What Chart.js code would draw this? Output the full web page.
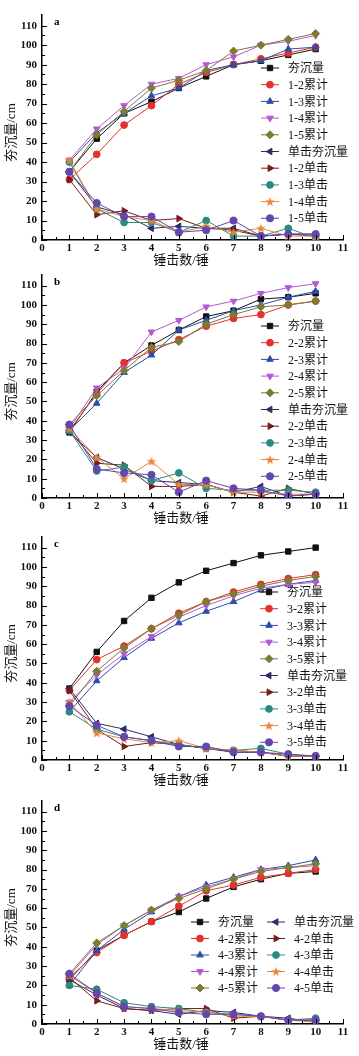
<!DOCTYPE html>
<html>
<head>
<meta charset="utf-8">
<script src="https://cdn.jsdelivr.net/npm/chart.js@4.4.1/dist/chart.umd.min.js"></script>
<style>
html, body { margin: 0; padding: 0; background: #fff; }
body { width: 359px; height: 1056px; position: relative; overflow: hidden; }
canvas { position: absolute; left: 0; }
</style>
</head>
<body>
<canvas id="chart_a" width="359" height="267" style="top:3px"></canvas>
<canvas id="chart_b" width="359" height="265" style="top:263px"></canvas>
<canvas id="chart_c" width="359" height="265" style="top:525px"></canvas>
<canvas id="chart_d" width="359" height="265" style="top:789px"></canvas>
<script>
// hammer blow number (x axis)
var blows = [1, 2, 3, 4, 5, 6, 7, 8, 9, 10];
// y axis tick labels
var yTicks = [0, 10, 20, 30, 40, 50, 60, 70, 80, 90, 100, 110];

// panel a
var labelsA = ['夯沉量', '1-2累计', '1-3累计', '1-4累计', '1-5累计', '单击夯沉量', '1-2单击', '1-3单击', '1-4单击', '1-5单击'];
var aTotal   = [35, 52, 65, 71, 78, 84, 90, 92, 95, 98];
var aCum2    = [31, 44, 59, 69, 80, 86, 90, 93, 96, 99];
var aCum3    = [40, 55, 65, 74, 78, 87, 90, 92, 98, 99];
var aCum4    = [41, 57, 69, 80, 83, 90, 94, 100, 102, 105];
var aCum5    = [35, 54, 66, 78, 82, 87, 97, 100, 103, 106];
var aSingle  = [35, 17, 13, 6, 7, 6, 6, 2, 3, 3];
var aSingle2 = [31, 13, 15, 10, 11, 6, 5, 2, 3, 2];
var aSingle3 = [40, 16, 9, 9, 4, 10, 2, 2, 6, 1];
var aSingle4 = [41, 16, 12, 10, 4, 7, 4, 6, 2, 2];
var aSingle5 = [35, 19, 12, 12, 4, 5, 10, 2, 3, 3];

// panel b
var labelsB = ['夯沉量', '2-2累计', '2-3累计', '2-4累计', '2-5累计', '单击夯沉量', '2-2单击', '2-3单击', '2-4单击', '2-5单击'];
var bTotal   = [34, 55, 70, 79, 87, 94, 97, 103, 104, 106];
var bCum2    = [35, 54, 70, 76, 82, 89, 93, 95, 100, 102];
var bCum3    = [35, 49, 65, 74, 87, 92, 97, 100, 104, 107];
var bCum4    = [36, 57, 67, 86, 92, 99, 102, 106, 109, 111];
var bCum5    = [38, 53, 66, 78, 81, 90, 95, 99, 100, 102];
var bSingle  = [34, 21, 15, 9, 8, 7, 3, 6, 1, 2];
var bSingle2 = [35, 18, 17, 6, 6, 7, 3, 1, 5, 2];
var bSingle3 = [35, 14, 16, 9, 13, 5, 4, 4, 4, 3];
var bSingle4 = [36, 21, 10, 19, 7, 7, 3, 3, 2, 2];
var bSingle5 = [38, 15, 13, 12, 3, 9, 5, 4, 1, 2];

// panel c
var labelsC = ['夯沉量', '3-2累计', '3-3累计', '3-4累计', '3-5累计', '单击夯沉量', '3-2单击', '3-3单击', '3-4单击', '3-5单击'];
var cTotal   = [37, 56, 72, 84, 92, 98, 102, 106, 108, 110];
var cCum2    = [36, 52, 59, 68, 76, 82, 87, 91, 94, 96];
var cCum3    = [25, 41, 53, 63, 71, 77, 82, 88, 91, 93];
var cCum4    = [30, 44, 55, 64, 74, 80, 85, 89, 91, 92];
var cCum5    = [28, 46, 58, 68, 75, 82, 86, 90, 93, 95];
var cSingle  = [37, 19, 16, 12, 8, 6, 4, 4, 2, 2];
var cSingle2 = [36, 16, 7, 9, 8, 6, 5, 4, 2, 2];
var cSingle3 = [25, 16, 12, 10, 8, 6, 5, 6, 3, 2];
var cSingle4 = [30, 14, 11, 9, 10, 6, 5, 4, 2, 2];
var cSingle5 = [28, 18, 12, 10, 7, 7, 4, 4, 3, 2];

// panel d
var labelsD = ['夯沉量', '4-2累计', '4-3累计', '4-4累计', '4-5累计', '单击夯沉量', '4-2单击', '4-3单击', '4-4单击', '4-5单击'];
var dTotal   = [23, 38, 46, 53, 58, 65, 71, 75, 78, 79];
var dCum2    = [24, 37, 46, 53, 61, 69, 72, 76, 78, 80];
var dCum3    = [20, 38, 49, 58, 66, 72, 76, 80, 82, 85];
var dCum4    = [25, 41, 51, 59, 66, 71, 75, 80, 81, 82];
var dCum5    = [26, 42, 51, 59, 65, 70, 75, 79, 81, 83];
var dSingle  = [23, 15, 8, 7, 5, 7, 6, 4, 3, 1];
var dSingle2 = [24, 12, 8, 7, 8, 8, 3, 4, 2, 2];
var dSingle3 = [20, 18, 11, 9, 8, 6, 5, 4, 2, 3];
var dSingle4 = [25, 16, 9, 8, 7, 6, 4, 4, 2, 1];
var dSingle5 = [26, 16, 9, 8, 6, 5, 5, 4, 2, 2];

var colors = ['#111111', '#e2322b', '#2a4fa6', '#b35ad0', '#7c7a33',
              '#2c2c66', '#751c1e', '#2a8a80', '#e8853a', '#6447ad'];

function starImage(color) {
    var c = document.createElement('canvas');
    c.width = 10; c.height = 10;
    var g = c.getContext('2d');
    g.fillStyle = color;
    g.beginPath();
    for (var k = 0; k < 10; k++) {
        var r = k % 2 ? 2 : 5;
        var a = -Math.PI / 2 + k * Math.PI / 5;
        g.lineTo(5 + r * Math.cos(a), 5.4 + r * Math.sin(a));
    }
    g.closePath();
    g.fill();
    return c;
}

var pointStyles = ['rect', 'circle', 'triangle', 'triangle', 'rectRot', 'triangle', 'triangle', 'circle', starImage(colors[8]), 'circle'];
var rotations = [0, 0, 0, 180, 0, -90, 90, 0, 0, 0];
var radii = [3.8, 3.4, 3.8, 3.8, 4, 3.8, 3.8, 3.4, 3, 3.6];

var serif = '"Liberation Serif", "Noto Sans CJK SC", serif';

var decorPlugin = {
    id: 'decor',
    afterDraw: function(chart, args, opts) {
        var ctx = chart.ctx, area = chart.chartArea;
        var xs = chart.scales.x, ys = chart.scales.y;
        ctx.save();
        // inward ticks
        ctx.strokeStyle = '#000';
        ctx.lineWidth = 1;
        for (var v = 0; v <= 11; v += 0.5) {
            var px = Math.round(xs.getPixelForValue(v)) + 0.5;
            var len = v % 1 === 0 ? 5 : 3;
            ctx.beginPath();
            ctx.moveTo(px, area.bottom);
            ctx.lineTo(px, area.bottom - len);
            ctx.stroke();
        }
        for (var w = 0; w <= 110; w += 5) {
            var py = Math.round(ys.getPixelForValue(w)) + 0.5;
            var len2 = w % 10 === 0 ? 5 : 3;
            ctx.beginPath();
            ctx.moveTo(area.left, py);
            ctx.lineTo(area.left + len2, py);
            ctx.stroke();
        }
        // axis titles
        ctx.fillStyle = '#111';
        ctx.font = '13px ' + serif;
        ctx.textAlign = 'center';
        ctx.textBaseline = 'middle';
        ctx.fillText('锤击数/锤', 181, area.bottom + 21);
        ctx.save();
        ctx.translate(12, (area.top + area.bottom) / 2 + 5);
        ctx.rotate(-Math.PI / 2);
        ctx.fillText('夯沉量/cm', 0, 0);
        ctx.restore();
        // panel letter
        ctx.fillStyle = '#000';
        ctx.font = 'bold 11px ' + serif;
        ctx.textAlign = 'left';
        ctx.fillText(opts.letter, area.left + 12, area.top + 7);
        // legend
        var lg = opts.legend;
        ctx.font = '12px ' + serif;
        chart.data.datasets.forEach(function(ds, i) {
            var col = Math.floor(i / lg.rows), row = i % lg.rows;
            var lx = lg.x + col * lg.colGap;
            var ly = area.top + lg.y + row * lg.rowGap;
            ctx.strokeStyle = ds.borderColor;
            ctx.lineWidth = 1;
            ctx.beginPath();
            ctx.moveTo(lx, ly);
            ctx.lineTo(lx + 18, ly);
            ctx.stroke();
            ctx.fillStyle = ds.pointBackgroundColor;
            ctx.strokeStyle = ds.pointBorderColor;
            Chart.helpers.drawPoint(ctx, {
                pointStyle: ds.pointStyle, rotation: ds.pointRotation,
                radius: ds.pointRadius, borderWidth: 1
            }, lx + 9, ly);
            ctx.fillStyle = '#111';
            ctx.fillText(ds.label, lx + 27, ly + 1);
        });
        ctx.restore();
    }
};

function drawPanel(canvasId, letter, labels, series, legend) {
    var datasets = series.map(function(values, i) {
        return {
            label: labels[i],
            data: values.map(function(v, k) { return {x: blows[k], y: v}; }),
            borderColor: colors[i],
            backgroundColor: colors[i],
            pointBackgroundColor: colors[i],
            pointBorderColor: colors[i],
            borderWidth: 1,
            pointStyle: pointStyles[i],
            pointRotation: rotations[i],
            pointRadius: radii[i],
            pointBorderWidth: 1,
            tension: 0,
            order: -i
        };
    });
    return new Chart(document.getElementById(canvasId), {
        type: 'line',
        data: {datasets: datasets},
        plugins: [decorPlugin],
        options: {
            responsive: false,
            animation: false,
            events: [],
            layout: {autoPadding: false, padding: {top: 12, right: 16, left: 0, bottom: 0}},
            plugins: {
                legend: {display: false},
                tooltip: {enabled: false},
                decor: {letter: letter, legend: legend}
            },
            scales: {
                x: {
                    type: 'linear', min: 0, max: 11,
                    ticks: {stepSize: 1, color: '#111', padding: 2, maxRotation: 0, autoSkip: false,
                            font: {family: serif, size: 11, weight: 'bold'}},
                    grid: {display: false, drawTicks: false},
                    border: {display: true, color: '#000', width: 1.5},
                    title: {display: false},
                    afterFit: function(s) { s.height = 30; }
                },
                y: {
                    type: 'linear', min: 0, max: 115.5,
                    ticks: {color: '#111', padding: 5, autoSkip: false,
                            font: {family: serif, size: 11, weight: 'bold'}},
                    afterBuildTicks: function(s) {
                        s.ticks = yTicks.map(function(v) { return {value: v}; });
                    },
                    grid: {display: false, drawTicks: false},
                    border: {display: true, color: '#000', width: 1.5},
                    title: {display: false},
                    afterFit: function(s) { s.width = 42; }
                }
            }
        }
    });
}

var colLegend = {x: 261, rows: 10, colGap: 0, rowGap: 16.7};

drawPanel('chart_a', 'a', labelsA,
    [aTotal, aCum2, aCum3, aCum4, aCum5, aSingle, aSingle2, aSingle3, aSingle4, aSingle5],
    Object.assign({}, colLegend, {y: 53}));
drawPanel('chart_b', 'b', labelsB,
    [bTotal, bCum2, bCum3, bCum4, bCum5, bSingle, bSingle2, bSingle3, bSingle4, bSingle5],
    Object.assign({}, colLegend, {y: 51}));
drawPanel('chart_c', 'c', labelsC,
    [cTotal, cCum2, cCum3, cCum4, cCum5, cSingle, cSingle2, cSingle3, cSingle4, cSingle5],
    Object.assign({}, colLegend, {x: 260, y: 55}));
drawPanel('chart_d', 'd', labelsD,
    [dTotal, dCum2, dCum3, dCum4, dCum5, dSingle, dSingle2, dSingle3, dSingle4, dSingle5],
    {x: 191, y: 121, rows: 5, colGap: 76, rowGap: 16.5});
</script>
</body>
</html>
